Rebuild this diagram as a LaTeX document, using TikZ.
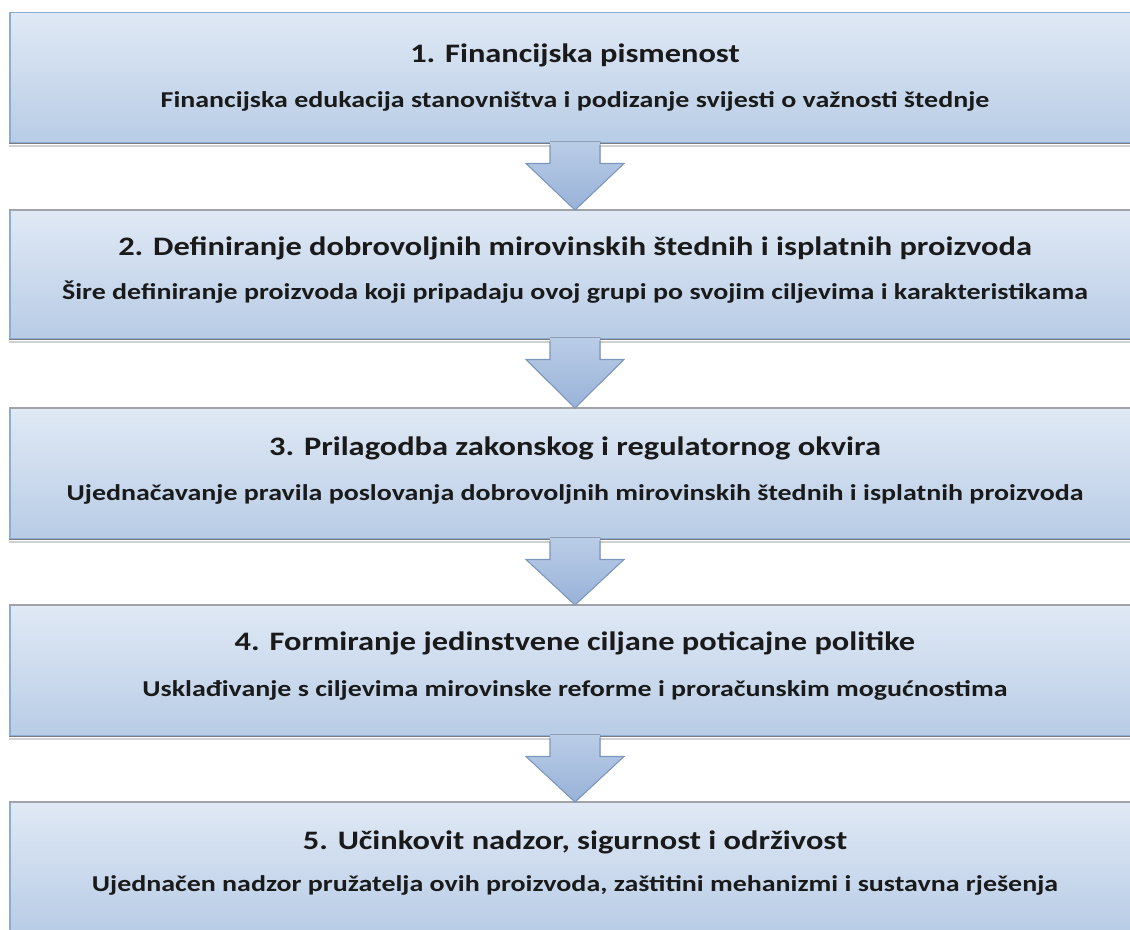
\documentclass[tikz,border=0pt]{standalone}
\usepackage{fontspec}
\setmainfont{Carlito}
\newfontfamily\widetitle[FakeStretch=1.216]{Carlito}
\newfontfamily\widesub[FakeStretch=1.233]{Carlito}
\definecolor{boxtop}{RGB}{224,233,245}
\definecolor{boxbot}{RGB}{184,204,230}
\definecolor{boxline}{RGB}{140,172,212}
\definecolor{edgegray}{RGB}{120,124,130}
\definecolor{arrtop}{RGB}{186,205,231}
\definecolor{arrbot}{RGB}{152,178,216}
\definecolor{arrline}{RGB}{125,150,190}
\definecolor{txt}{RGB}{26,26,26}
\begin{document}
\begin{tikzpicture}[x=0.75pt,y=-0.75pt,
  stepbox/.style={rectangle, anchor=north, minimum width=847.5pt, minimum height=97.5pt,
     inner sep=0pt, top color=boxtop, bottom color=boxbot, draw=boxline, line width=1.1pt},
  titletext/.style={font=\widetitle\bfseries\fontsize{20}{23}\selectfont, text=txt, inner sep=0pt},
  subtext/.style={font=\widesub\bfseries\fontsize{17}{20}\selectfont, text=txt, inner sep=0pt},
  arrfill/.style={top color=arrtop, bottom color=arrbot},
  arrdraw/.style={draw=arrline, line width=0.8pt, line join=miter},
  edge/.style={draw=edgegray, line width=1.4pt},
  shade/.style={draw=black!18, line width=1.5pt}]
\useasboundingbox (0,0) rectangle (1130,929);
\clip (0,0) rectangle (1130,929);
\fill[white] (0,0) rectangle (1130,929);

% boxes
\node[stepbox] (b1) at (575,12) {};
\node[stepbox, minimum height=96pt] (b2) at (575,210) {};
\node[stepbox] (b3) at (575,408) {};
\node[stepbox] (b4) at (575,605) {};
\node[stepbox] (b5) at (575,802) {};

% bottom edges with soft shadow
\foreach \b in {b1,b2,b3,b4}{
  \draw[shade] ([yshift=-2.2pt]\b.south west) -- ([yshift=-2.2pt]\b.south east);
  \draw[edge] (\b.south west) -- (\b.south east);
}
\foreach \b in {b2,b3,b4,b5}{
  \draw[draw=edgegray!70, line width=1pt] (\b.north west) -- (\b.north east);
}

% arrows
\foreach \a/\c in {b1/b2,b2/b3,b3/b4,b4/b5}{
  \coordinate (\a tip) at (\c.north);
  \fill[arrfill] ([xshift=-18.75pt,yshift=1.6pt]\a.south) -- ([xshift=-18.75pt,yshift=-15pt]\a.south)
     -- ([xshift=-36.75pt,yshift=-15pt]\a.south) -- (\a tip)
     -- ([xshift=36.75pt,yshift=-15pt]\a.south) -- ([xshift=18.75pt,yshift=-15pt]\a.south)
     -- ([xshift=18.75pt,yshift=1.6pt]\a.south) -- cycle;
  \draw[arrdraw] ([xshift=-18.75pt,yshift=-0.8pt]\a.south) -- ([xshift=-18.75pt,yshift=-15pt]\a.south)
     -- ([xshift=-36.75pt,yshift=-15pt]\a.south) -- (\a tip)
     -- ([xshift=36.75pt,yshift=-15pt]\a.south) -- ([xshift=18.75pt,yshift=-15pt]\a.south)
     -- ([xshift=18.75pt,yshift=-0.8pt]\a.south);
}

% texts
\node[titletext] (t1) at (575,55) {1. Financijska pismenost};
\node[subtext] (s1) at (575,101) {Financijska edukacija stanovništva i podizanje svijesti o važnosti štednje};
\node[titletext] (t2) at (575,248) {2. Definiranje dobrovoljnih mirovinskih štednih i isplatnih proizvoda};
\node[subtext] (s2) at (575,292) {Šire definiranje proizvoda koji pripadaju ovoj grupi po svojim ciljevima i karakteristikama};
\node[titletext] (t3) at (575,448) {3. Prilagodba zakonskog i regulatornog okvira};
\node[subtext] (s3) at (575,494) {Ujednačavanje pravila poslovanja dobrovoljnih mirovinskih štednih i isplatnih proizvoda};
\node[titletext] (t4) at (575,643) {4. Formiranje jedinstvene ciljane poticajne politike};
\node[subtext] (s4) at (575,690) {Usklađivanje s ciljevima mirovinske reforme i proračunskim mogućnostima};
\node[titletext] (t5) at (575,842) {5. Učinkovit nadzor, sigurnost i održivost};
\node[subtext] (s5) at (575,885) {Ujednačen nadzor pružatelja ovih proizvoda, zaštitini mehanizmi i sustavna rješenja};
\end{tikzpicture}
\end{document}
